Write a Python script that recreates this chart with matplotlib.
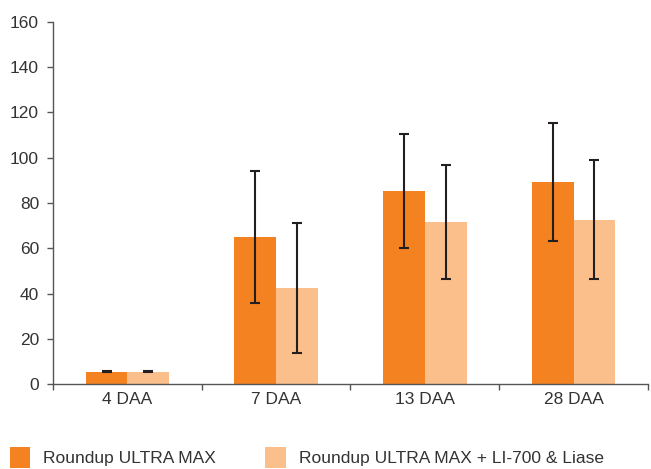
import matplotlib
matplotlib.use("Agg")
import matplotlib.pyplot as plt
import numpy as np
from matplotlib.patches import Patch

categories = ["4 DAA", "7 DAA", "13 DAA", "28 DAA"]
series_names = ["Roundup ULTRA MAX", "Roundup ULTRA MAX + LI-700 & Liase"]
rum_values = [5.5, 65.0, 85.3, 89.3]
rum_err = [0.3, 29.0, 25.0, 26.2]
mix_values = [5.5, 42.4, 71.6, 72.5]
mix_err = [0.3, 28.8, 25.0, 26.3]
yticks = [0, 20, 40, 60, 80, 100, 120, 140, 160]

dark = "#F58220"
light = "#FBBF8B"
text_c = "#333333"
axis_c = "#555555"

plt.rcParams["font.family"] = ["Liberation Sans", "DejaVu Sans"]

fig = plt.figure(figsize=(6.51, 4.69), dpi=100)
ax = fig.add_axes([53/651, (469-384)/469, (648-53)/651, (384-22)/469])

x = np.arange(len(categories))
w = 0.28
ekw = dict(ecolor="#231F20", elinewidth=1.5, capsize=3.6, capthick=1.5)
ax.bar(x - w/2, rum_values, w, color=dark, yerr=rum_err, error_kw=ekw,
       label=series_names[0])
ax.bar(x + w/2, mix_values, w, color=light, yerr=mix_err, error_kw=ekw,
       label=series_names[1])

ax.set_xlim(-0.5, len(categories) - 0.5)
ax.set_ylim(0, 160)
ax.set_yticks(yticks)
ax.set_yticklabels([str(v) for v in yticks])
ax.set_xticks(x)
ax.set_xticklabels(categories)
ax.set_xticks(np.arange(-0.5, len(categories)), minor=True)
ax.tick_params(axis="x", which="major", length=0, pad=6, labelsize=12.5, colors=text_c)
ax.tick_params(axis="x", which="minor", length=4, width=1, color=axis_c, direction="out")
ax.tick_params(axis="y", length=4, width=1, color=axis_c, pad=6, labelsize=12.5, labelcolor=text_c)
for s in ["top", "right"]:
    ax.spines[s].set_visible(False)
for s in ["left", "bottom"]:
    ax.spines[s].set_color(axis_c)
    ax.spines[s].set_linewidth(1)

handles = [Patch(facecolor=dark, edgecolor="none"), Patch(facecolor=light, edgecolor="none")]
leg = fig.legend(handles, series_names, loc="lower left", bbox_to_anchor=(0.004, -0.012),
                 ncol=2, frameon=False, fontsize=12.5, handlelength=1.2, handleheight=1.45,
                 handletextpad=0.75, columnspacing=2.8, borderaxespad=0)
for t in leg.get_texts():
    t.set_color(text_c)

fig.savefig("out.png", dpi=100)
